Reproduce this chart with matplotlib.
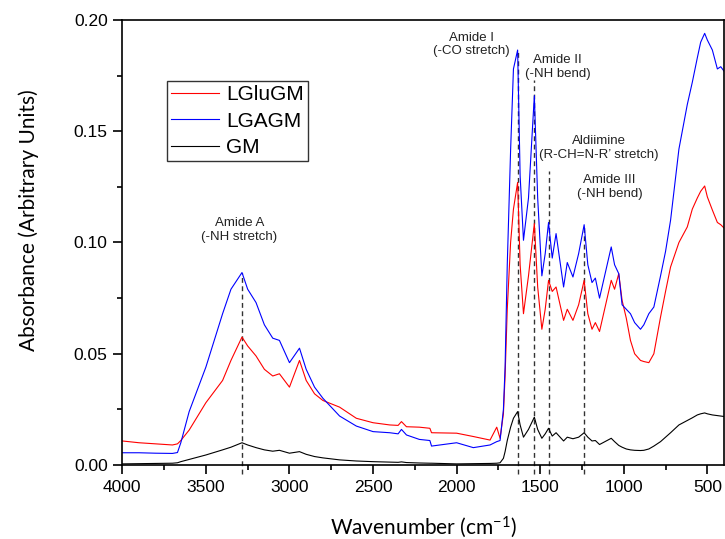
import matplotlib.pyplot as plt
from matplotlib.ticker import MultipleLocator

# wavenumber grid (cm-1) shared by the three spectra
wavenumber = [4000, 3900, 3800, 3700, 3670, 3650, 3600, 3500, 3400, 3350,
              3284, 3250, 3200, 3150, 3100, 3060, 3000, 2940, 2900, 2850,
              2800, 2700, 2600, 2500, 2400, 2350, 2330, 2300, 2223, 2160,
              2150, 2000, 1900, 1800, 1760, 1740, 1720, 1710, 1697, 1677,
              1660, 1635, 1620, 1600, 1570, 1535, 1515, 1490, 1470, 1450,
              1428, 1405, 1360, 1338, 1304, 1270, 1237, 1215, 1190, 1170,
              1145, 1075, 1055, 1030, 1010, 985, 960, 935, 900, 880,
              850, 820, 780, 750, 720, 670, 620, 590, 560, 540,
              516, 500, 470, 440, 420, 400]

lglugm = [0.0108, 0.0100, 0.0095, 0.0090, 0.0095, 0.0110, 0.0157, 0.0280, 0.0380, 0.0470,
          0.0575, 0.0535, 0.0490, 0.0430, 0.0400, 0.0410, 0.0350, 0.0470, 0.0380, 0.0320,
          0.0290, 0.0260, 0.0210, 0.0190, 0.0180, 0.0178, 0.0195, 0.0172, 0.0170, 0.0165,
          0.0145, 0.0143, 0.0128, 0.0112, 0.0170, 0.0120, 0.0230, 0.0400, 0.0700, 0.1000,
          0.1150, 0.1270, 0.0900, 0.0680, 0.0850, 0.1085, 0.0800, 0.0610, 0.0700, 0.0830,
          0.0780, 0.0800, 0.0650, 0.0700, 0.0650, 0.0720, 0.0830, 0.0680, 0.0610, 0.0640,
          0.0600, 0.0830, 0.0790, 0.0860, 0.0740, 0.0660, 0.0560, 0.0500, 0.0470, 0.0465,
          0.0460, 0.0500, 0.0665, 0.0780, 0.0890, 0.1000, 0.1070, 0.1150, 0.1200, 0.1230,
          0.1254, 0.1205, 0.1146, 0.1090, 0.1080, 0.1065]

lgagm = [0.0055, 0.0055, 0.0053, 0.0052, 0.0056, 0.0100, 0.0240, 0.0440, 0.0680, 0.0790,
         0.0865, 0.0790, 0.0730, 0.0630, 0.0570, 0.0560, 0.0460, 0.0525, 0.0430, 0.0350,
         0.0300, 0.0220, 0.0175, 0.0150, 0.0145, 0.0140, 0.0160, 0.0135, 0.0115, 0.0110,
         0.0085, 0.0100, 0.0078, 0.0090, 0.0105, 0.0110, 0.0250, 0.0440, 0.0900, 0.1415,
         0.1780, 0.1865, 0.1300, 0.1010, 0.1200, 0.1660, 0.1200, 0.0850, 0.0950, 0.1090,
         0.0930, 0.1040, 0.0800, 0.0910, 0.0845, 0.0950, 0.1080, 0.0900, 0.0820, 0.0840,
         0.0750, 0.0980, 0.0900, 0.0860, 0.0720, 0.0700, 0.0680, 0.0640, 0.0610, 0.0630,
         0.0680, 0.0710, 0.0850, 0.0960, 0.1100, 0.1420, 0.1620, 0.1720, 0.1830, 0.1900,
         0.1940, 0.1910, 0.1865, 0.1780, 0.1790, 0.1770]

gm = [0.0005, 0.0006, 0.0007, 0.0008, 0.0010, 0.0015, 0.0025, 0.0045, 0.0068, 0.0080,
      0.0100, 0.0090, 0.0078, 0.0068, 0.0062, 0.0066, 0.0053, 0.0060, 0.0048, 0.0038,
      0.0032, 0.0023, 0.0018, 0.0015, 0.0013, 0.0012, 0.0014, 0.0011, 0.0009, 0.0008,
      0.0008, 0.0005, 0.0006, 0.0007, 0.0008, 0.0010, 0.0030, 0.0060, 0.0110, 0.0170,
      0.0210, 0.0240, 0.0180, 0.0125, 0.0160, 0.0215, 0.0160, 0.0120, 0.0140, 0.0165,
      0.0130, 0.0145, 0.0108, 0.0125, 0.0118, 0.0125, 0.0145, 0.0125, 0.0108, 0.0110,
      0.0092, 0.0120, 0.0105, 0.0088, 0.0080, 0.0072, 0.0068, 0.0066, 0.0065, 0.0066,
      0.0072, 0.0085, 0.0105, 0.0125, 0.0145, 0.0180, 0.0200, 0.0212, 0.0225, 0.0230,
      0.0234, 0.0230, 0.0225, 0.0222, 0.0220, 0.0218]

# band assignments: position, top of the dashed marker, label, label position
band_pos = [3284, 1635, 1535, 1450, 1237]
band_top = [0.0865, 0.1865, 0.173, 0.132, 0.108]
band_text = ["Amide A\n(-NH stretch)", "Amide I\n(-CO stretch)", "Amide II\n(-NH bend)",
             "Aldiimine\n(R-CH=N-R\u2019 stretch)", "Amide III\n(-NH bend)"]
text_x = [3300, 1910, 1395, 1150, 1084]
text_y = [0.1056, 0.189, 0.179, 0.1425, 0.125]

plt.rcParams['font.family'] = ['Liberation Sans', 'DejaVu Sans']
plt.rcParams['mathtext.default'] = 'regular'

fig = plt.figure(figsize=(7.25, 5.39), dpi=100)
ax = fig.add_axes([0.1687, 0.1373, 0.8300, 0.8256])

ax.plot(wavenumber, lglugm, color='#ff0000', lw=0.8, label='LGluGM')
ax.plot(wavenumber, lgagm, color='#0000ff', lw=0.8, label='LGAGM')
ax.plot(wavenumber, gm, color='black', lw=0.8, label='GM')

for x, top in zip(band_pos, band_top):
    ax.plot([x, x], [-0.004, top], color='#333333', lw=1.0, ls=(0, (3.5, 2.5)),
            clip_on=False, zorder=1)
for x, y, t in zip(text_x, text_y, band_text):
    ax.text(x, y, t, ha='center', va='center', fontsize=9.5, color='#222222',
            linespacing=1.2)

ax.set_xlim(4000, 400)
ax.set_ylim(0, 0.20)
ax.xaxis.set_major_locator(MultipleLocator(500))
ax.xaxis.set_minor_locator(MultipleLocator(250))
ax.yaxis.set_major_locator(MultipleLocator(0.05))
ax.yaxis.set_minor_locator(MultipleLocator(0.025))
ax.yaxis.set_major_formatter(plt.FormatStrFormatter('%.2f'))
ax.tick_params(which='major', direction='out', length=6.5, width=1.2, labelsize=12.5, pad=4)
ax.tick_params(which='minor', direction='out', length=3.5, width=1.2)
for s in ax.spines.values():
    s.set_linewidth(1.2)

ax.set_xlabel('Wavenumber (cm$^{-1}$)', family='Lato', fontsize=15, labelpad=14)
ax.set_ylabel('Absorbance (Arbitrary Units)', family='Lato', fontsize=15)
ax.yaxis.set_label_coords(-0.138, 0.55)

leg = ax.legend(loc='upper left', bbox_to_anchor=(0.074, 0.863), borderaxespad=0,
                fontsize=15, handlelength=2.3, handletextpad=0.35, labelspacing=0.36,
                borderpad=0.2, fancybox=False, framealpha=1)
leg.get_frame().set_edgecolor('#333333')
leg.get_frame().set_linewidth(1.0)

fig.savefig('out.png', dpi=100)
